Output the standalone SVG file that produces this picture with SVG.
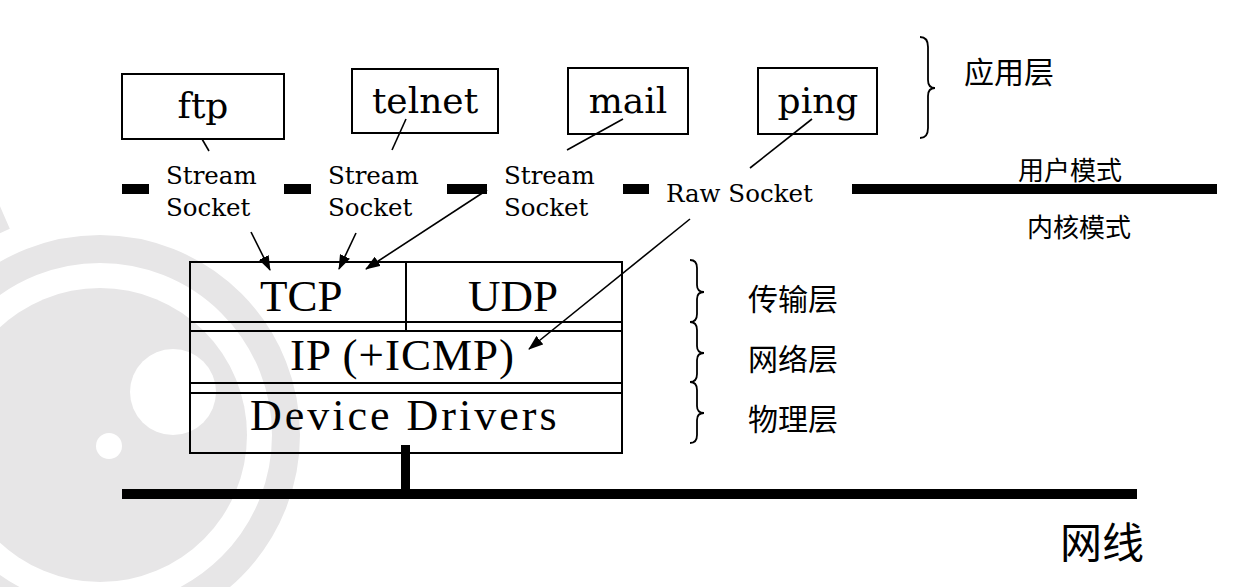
<svg xmlns="http://www.w3.org/2000/svg" width="1257" height="587" viewBox="0 0 1257 587">
  <style>
    .wm { fill: #e7e6e7; }
    .box { fill: none; stroke: #000; stroke-width: 2; }
    .app { font-family: "DejaVu Serif", serif; font-size: 36px; fill: #000; text-anchor: middle; }
    .sock { font-family: "DejaVu Serif", serif; font-size: 24.5px; fill: #000; }
    .proto { font-family: "Liberation Serif", serif; font-size: 45px; fill: #000; }
    .cjk { font-family: "Noto Sans CJK SC", sans-serif; fill: #000; }
    .thin { stroke: #000; stroke-width: 1.6; fill: none; }
    .brace { stroke: #000; stroke-width: 1.8; fill: none; }
    .bar { fill: #000; }
  </style>
  <defs>
    <marker id="ah" markerUnits="userSpaceOnUse" markerWidth="15" markerHeight="11" refX="14" refY="5.5" orient="auto">
      <path d="M0,0 L15,5.5 L0,11 z" fill="#000"/>
    </marker>
  </defs>

  <rect x="0" y="0" width="1257" height="587" fill="#fff"/>

  <!-- watermark -->
  <g id="watermark">
    <path class="wm" d="M -135 349.5 A 250 250 0 0 1 -0.2 205.9 L 9.8 228.8 A 225 225 0 0 0 -111.4 358 Z"/>
    <circle cx="100" cy="435" r="186" fill="none" stroke="#e7e6e7" stroke-width="28"/>
    <circle class="wm" cx="100" cy="435" r="147"/>
    <circle cx="173" cy="392" r="43" fill="#fff"/>
    <circle cx="109" cy="446" r="13" fill="#fff"/>
  </g>

  <!-- boundary user/kernel -->
  <g id="boundary">
    <rect class="bar" x="122" y="184" width="27" height="10"/>
    <rect class="bar" x="284" y="184" width="27" height="10"/>
    <rect class="bar" x="447" y="184" width="40" height="10"/>
    <rect class="bar" x="623" y="184" width="26" height="10"/>
    <rect class="bar" x="852" y="184" width="365" height="10"/>
  </g>

  <!-- application nodes -->
  <g id="ftp">
    <rect class="box" x="122" y="74" width="162" height="65"/>
    <text class="app" x="203" y="118">ftp</text>
  </g>
  <g id="telnet">
    <rect class="box" x="352" y="69" width="146" height="64"/>
    <text class="app" x="425" y="113">telnet</text>
  </g>
  <g id="mail">
    <rect class="box" x="568" y="68" width="120" height="66"/>
    <text class="app" x="628" y="113">mail</text>
  </g>
  <g id="ping">
    <rect class="box" x="758" y="68" width="119" height="66"/>
    <text class="app" x="818" y="113">ping</text>
  </g>

  <!-- sockets -->
  <g id="socket1">
    <text class="sock" x="166" y="184">Stream</text>
    <text class="sock" x="166" y="216">Socket</text>
  </g>
  <g id="socket2">
    <text class="sock" x="328" y="184">Stream</text>
    <text class="sock" x="328" y="216">Socket</text>
  </g>
  <g id="socket3">
    <text class="sock" x="504" y="184">Stream</text>
    <text class="sock" x="504" y="216">Socket</text>
  </g>
  <g id="rawsocket">
    <text class="sock" x="666" y="202">Raw Socket</text>
  </g>

  <!-- protocol stack -->
  <g id="stack">
    <rect class="box" x="190" y="262" width="432" height="191"/>
    <line class="box" x1="190" y1="322" x2="622" y2="322"/>
    <line class="box" x1="190" y1="331" x2="622" y2="331"/>
    <line class="box" x1="190" y1="383" x2="622" y2="383"/>
    <line class="box" x1="190" y1="393" x2="622" y2="393"/>
    <line class="box" x1="406" y1="262" x2="406" y2="331"/>
  </g>
  <g id="tcp"><text class="proto" x="260" y="311">TCP</text></g>
  <g id="udp"><text class="proto" x="468" y="311">UDP</text></g>
  <g id="ip"><text class="proto" x="290" y="370" letter-spacing="1">IP (+ICMP)</text></g>
  <g id="drivers"><text class="proto" x="250" y="430" style="font-size:44px" letter-spacing="3">Device Drivers</text></g>

  <!-- network wire -->
  <g id="wire">
    <rect class="bar" x="401" y="445" width="9" height="50"/>
    <rect class="bar" x="122" y="489" width="1015" height="10"/>
    <text class="cjk" x="1060" y="558" style="font-size:42px">网线</text>
  </g>

  <!-- connectors -->
  <g id="connectors">
    <line class="thin" x1="202" y1="139" x2="209" y2="151"/>
    <line class="thin" x1="406" y1="119" x2="392" y2="150"/>
    <line class="thin" x1="623" y1="119" x2="567" y2="150"/>
    <line class="thin" x1="812" y1="119" x2="750" y2="168"/>
    <line class="thin" x1="251" y1="232" x2="270" y2="270" marker-end="url(#ah)"/>
    <line class="thin" x1="356" y1="233" x2="339" y2="269" marker-end="url(#ah)"/>
    <line class="thin" x1="487" y1="190" x2="366" y2="269" marker-end="url(#ah)"/>
    <line class="thin" x1="690" y1="219" x2="529" y2="349" marker-end="url(#ah)"/>
  </g>

  <!-- layer labels -->
  <g id="layer-app">
    <path class="brace" d="M920 37 Q928 37 928 47 L928 80 Q928 88 935 88 Q928 88 928 96 L928 128 Q928 138 920 138"/>
    <text class="cjk" x="964" y="83" style="font-size:30px">应用层</text>
  </g>
  <g id="mode-labels">
    <text class="cjk" x="1018" y="180" style="font-size:26px">用户模式</text>
    <text class="cjk" x="1027" y="237" style="font-size:26px">内核模式</text>
  </g>
  <g id="layer-transport">
    <path class="brace" d="M690 260 Q697 260 697 268 L697 285 Q697 292 704 292 Q697 292 697 299 L697 314 Q697 322 690 322"/>
    <text class="cjk" x="748" y="310" style="font-size:30px">传输层</text>
  </g>
  <g id="layer-network">
    <path class="brace" d="M690 322 Q697 322 697 330 L697 346 Q697 353 704 353 Q697 353 697 360 L697 374 Q697 382 690 382"/>
    <text class="cjk" x="748" y="370" style="font-size:30px">网络层</text>
  </g>
  <g id="layer-physical">
    <path class="brace" d="M690 382 Q697 382 697 390 L697 406 Q697 413 704 413 Q697 413 697 420 L697 435 Q697 443 690 443"/>
    <text class="cjk" x="748" y="430" style="font-size:30px">物理层</text>
  </g>
</svg>
